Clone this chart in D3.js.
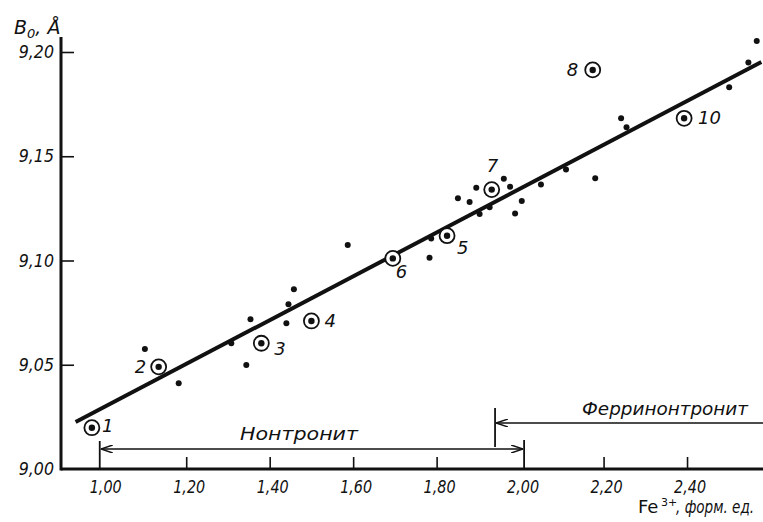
<!DOCTYPE html>
<html><head><meta charset="utf-8">
<script src="https://cdn.jsdelivr.net/npm/d3@7"></script>
<style>
html,body{margin:0;padding:0;background:#fff;}
text{font-family:"DejaVu Sans",sans-serif;fill:#111;}
.it{font-style:italic;}
</style></head>
<body><svg id="c" width="763" height="522"></svg>
<script>
// ---- data ----
const xTicks = [1.00, 1.20, 1.40, 1.60, 1.80, 2.00, 2.20, 2.40];
const yTicks = [9.00, 9.05, 9.10, 9.15, 9.20];
// plain measured points [Fe3+, b0]
const dotX = [1.101, 1.182, 1.308, 1.344, 1.354, 1.440, 1.445, 1.458, 1.587, 1.783, 1.787, 1.851, 1.879, 1.895, 1.903, 1.927, 1.961, 1.976, 1.988, 2.004, 2.050, 2.110, 2.180, 2.242, 2.255, 2.501, 2.547, 2.567];
const dotY = [9.0576, 9.0411, 9.0603, 9.0499, 9.0718, 9.0699, 9.0790, 9.0862, 9.1074, 9.1013, 9.1106, 9.1298, 9.1280, 9.1349, 9.1223, 9.1255, 9.1392, 9.1354, 9.1226, 9.1285, 9.1365, 9.1437, 9.1394, 9.1682, 9.1639, 9.1831, 9.1950, 9.2053];
// numbered (circled) samples
const numLabels = ["1", "2", "3", "4", "5", "6", "7", "8", "10"];
const numX = [0.974, 1.134, 1.380, 1.500, 1.825, 1.695, 1.932, 2.174, 2.393];
const numY = [9.0198, 9.0490, 9.0603, 9.0710, 9.1119, 9.1010, 9.1340, 9.1914, 9.1682];
// regression line end points
const fitX = [0.935, 2.578];
const fitY = [9.0225, 9.1952];
// ranges (arrows)
const nontroniteRange = [1.00, 2.00];
const ferriStart = 1.94;

const svg = d3.select("#c");
const x = d3.scaleLinear().domain([0.90, 2.582]).range([61, 763]);
const y = d3.scaleLinear().domain([9.00, 9.20]).range([469, 52]);
const fmt = v => d3.format(".2f")(v).replace(".", ",");

// axes
const gx = svg.append("g").attr("transform", `translate(0,${y(9.00)})`)
  .call(d3.axisTop(x).tickValues(xTicks.filter(v => v !== 1.00 && v !== 2.00)).tickSize(12).tickFormat(""));
gx.select(".domain").remove();
gx.selectAll("line").attr("stroke", "#111").attr("stroke-width", 1.6);
const gy = svg.append("g").attr("transform", `translate(${x(0.90)},0)`)
  .call(d3.axisRight(y).tickValues(yTicks.filter(v => v !== 9.00)).tickSize(13).tickFormat(""));
gy.select(".domain").remove();
gy.selectAll("line").attr("stroke", "#111").attr("stroke-width", 1.6);

svg.append("line").attr("x1", x(0.90)).attr("x2", 763).attr("y1", y(9.00)).attr("y2", y(9.00))
  .attr("stroke", "#111").attr("stroke-width", 3);
svg.append("line").attr("x1", x(0.90)).attr("x2", x(0.90)).attr("y1", y(9.00) + 1.5).attr("y2", 37)
  .attr("stroke", "#111").attr("stroke-width", 3);

// tick labels (condensed via horizontal scaling)
svg.selectAll(".xl").data(xTicks).enter().append("text").attr("class", "it")
  .attr("transform", d => `translate(${x(d) + 3},493) scale(0.8,1)`).attr("text-anchor", "middle")
  .attr("font-size", 18).text(fmt);
svg.selectAll(".yl").data(yTicks).enter().append("text").attr("class", "it")
  .attr("transform", d => `translate(54,${y(d) + 6}) scale(0.88,1)`).attr("text-anchor", "end")
  .attr("font-size", 18).text(fmt);

// axis titles
const yt = svg.append("text").attr("class", "it").attr("x", 14).attr("y", 34).attr("font-size", 19);
yt.append("tspan").text("B");
yt.append("tspan").attr("font-size", 13).attr("dy", 4).text("0");
yt.append("tspan").attr("dy", -4).text(", Å");

svg.append("text").attr("x", 638).attr("y", 513).attr("font-size", 18).text("Fe");
svg.append("text").attr("x", 661).attr("y", 506).attr("font-size", 11).text("3+");
svg.append("text").attr("class", "it").attr("font-size", 17)
  .attr("transform", "translate(676,513) scale(0.8,1)").text(", форм. ед.");

// regression line
svg.append("line").attr("x1", x(fitX[0])).attr("y1", y(fitY[0]))
  .attr("x2", x(fitX[1])).attr("y2", y(fitY[1]))
  .attr("stroke", "#111").attr("stroke-width", 4);

// dots
svg.selectAll(".dot").data(dotX).enter().append("circle")
  .attr("cx", d => x(d)).attr("cy", (d, i) => y(dotY[i])).attr("r", 3).attr("fill", "#111");

// numbered circled points
const ng = svg.selectAll(".np").data(numX).enter().append("g");
ng.append("circle").attr("cx", d => x(d)).attr("cy", (d, i) => y(numY[i])).attr("r", 7.5)
  .attr("fill", "#fff").attr("stroke", "#111").attr("stroke-width", 1.8);
ng.append("circle").attr("cx", d => x(d)).attr("cy", (d, i) => y(numY[i])).attr("r", 3.2).attr("fill", "#111");
const labOff = [[10, 4], [-24, 6], [13, 12], [13, 6], [10, 18], [3, 20], [-5, -18], [-26, 6], [14, 6]];
ng.append("text").attr("class", "it").attr("font-size", 18)
  .attr("x", (d, i) => x(d) + labOff[i][0]).attr("y", (d, i) => y(numY[i]) + labOff[i][1])
  .text((d, i) => numLabels[i]);

// range arrows
svg.append("defs").html(
  '<marker id="ah" viewBox="0 0 12 8" refX="12" refY="4" markerWidth="12" markerHeight="8" orient="auto-start-reverse" markerUnits="userSpaceOnUse">' +
  '<path d="M0,0 L12,4 L0,8" fill="none" stroke="#111" stroke-width="1.4"/></marker>');
const nx0 = x(nontroniteRange[0]) - 3, nx1 = x(nontroniteRange[1]) + 4;
svg.append("line").attr("x1", nx0).attr("x2", nx0).attr("y1", 441).attr("y2", y(9.00)).attr("stroke", "#111").attr("stroke-width", 1.8);
svg.append("line").attr("x1", nx1).attr("x2", nx1).attr("y1", 440).attr("y2", y(9.00)).attr("stroke", "#111").attr("stroke-width", 1.8);
svg.append("line").attr("x1", nx0 + 1).attr("x2", nx1 - 1).attr("y1", 449).attr("y2", 449)
  .attr("stroke", "#111").attr("stroke-width", 1.5)
  .attr("marker-start", "url(#ah)").attr("marker-end", "url(#ah)");
const fx = x(ferriStart);
svg.append("line").attr("x1", fx).attr("x2", fx).attr("y1", 408).attr("y2", 447).attr("stroke", "#111").attr("stroke-width", 1.8);
svg.append("line").attr("x1", 763).attr("x2", fx + 1).attr("y1", 423).attr("y2", 423)
  .attr("stroke", "#111").attr("stroke-width", 1.5).attr("marker-end", "url(#ah)");

svg.append("text").attr("class", "it").attr("x", 299).attr("y", 440)
  .attr("text-anchor", "middle").attr("font-size", 18)
  .attr("textLength", 118).attr("lengthAdjust", "spacingAndGlyphs").text("Нонтронит");
svg.append("text").attr("class", "it").attr("x", 665).attr("y", 415)
  .attr("text-anchor", "middle").attr("font-size", 18)
  .attr("textLength", 166).attr("lengthAdjust", "spacingAndGlyphs").text("Ферринонтронит");
</script></body></html>
